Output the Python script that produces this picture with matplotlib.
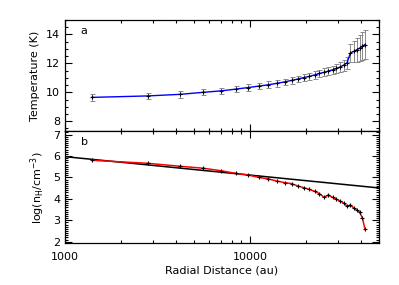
import numpy as np
import matplotlib
matplotlib.use('Agg')
import matplotlib.pyplot as plt
from matplotlib.ticker import MultipleLocator, LogLocator, FixedLocator, NullFormatter

plt.rcParams['font.family'] = 'DejaVu Sans'
plt.rcParams['font.size'] = 8

# radial distances of the profile points (au)
radius = [1400, 2800, 4200, 5600, 7000, 8400, 9800, 11200, 12600, 14000,
          15400, 16800, 18200, 19600, 21000, 22400, 23800, 25200, 26600, 28000,
          29400, 30800, 32200, 33600, 35000, 36400, 37800, 39200, 40600, 42000]

# panel a: temperature (K) and its uncertainty
temperature = [9.65, 9.75, 9.86, 10.0, 10.1, 10.22, 10.33, 10.43, 10.52, 10.62,
               10.72, 10.82, 10.92, 11.02, 11.1, 11.2, 11.3, 11.38, 11.47, 11.55,
               11.65, 11.75, 11.88, 12.05, 12.72, 12.82, 12.93, 13.05, 13.18, 13.3]
temp_err = [0.22, 0.22, 0.22, 0.22, 0.22, 0.22, 0.22, 0.22, 0.23, 0.23,
            0.23, 0.24, 0.24, 0.25, 0.25, 0.26, 0.27, 0.28, 0.29, 0.3,
            0.32, 0.35, 0.38, 0.42, 0.62, 0.72, 0.82, 0.9, 0.96, 1.0]

# panel b: log density
log_density = [5.8, 5.66, 5.52, 5.43, 5.31, 5.19, 5.11, 5.0, 4.93, 4.83,
               4.76, 4.71, 4.60, 4.52, 4.44, 4.35, 4.24, 4.07, 4.18, 4.07,
               3.98, 3.9, 3.8, 3.66, 3.71, 3.58, 3.48, 3.38, 3.12, 2.57]

# power-law reference: log n = pl_norm + pl_slope * log10(r / 1000)
pl_norm = 5.97
pl_slope = -0.86

xmin, xmax = 1000, 50000


def style_axis(ax):
    ax.set_xscale('log')
    ax.set_xlim(xmin, xmax)
    ax.xaxis.set_major_locator(LogLocator(base=10, numticks=10))
    ax.xaxis.set_minor_locator(LogLocator(base=10, subs=np.arange(2, 10), numticks=20))
    ax.tick_params(which='both', direction='in', top=True, right=True, width=0.8)
    ax.tick_params(which='major', length=5)
    ax.tick_params(which='minor', length=2.5)
    for s in ax.spines.values():
        s.set_linewidth(0.9)


fig = plt.figure(figsize=(3.99, 2.85), dpi=100)
ax1 = fig.add_axes([0.163, 0.539, 0.787, 0.391])
ax2 = fig.add_axes([0.163, 0.146, 0.787, 0.393])

# top panel: temperature
style_axis(ax1)
ax1.errorbar(radius, temperature, yerr=temp_err, fmt='none', ecolor='#8a8a8a',
             elinewidth=0.7, capsize=1.8, capthick=0.7, zorder=1)
ax1.plot(radius, temperature, color='blue', lw=1.0, zorder=2)
ax1.plot(radius, temperature, ls='none', marker='+', ms=3, mew=0.8, color='black', zorder=3)
ax1.set_ylim(7.3, 15)
ax1.yaxis.set_major_locator(FixedLocator([8, 10, 12, 14]))
ax1.yaxis.set_minor_locator(MultipleLocator(0.5))
ax1.xaxis.set_major_formatter(NullFormatter())
ax1.xaxis.set_minor_formatter(NullFormatter())
ax1.set_ylabel('Temperature (K)', labelpad=4)
ax1.text(0.05, 0.95, 'a', transform=ax1.transAxes, ha='left', va='top')

# bottom panel: density
style_axis(ax2)
r_line = np.array([xmin, xmax])
ax2.plot(r_line, pl_norm + pl_slope * np.log10(r_line / 1000.0), color='black', lw=1.1, zorder=1)
ax2.plot(radius, log_density, color='red', lw=1.1, zorder=2)
ax2.plot(radius, log_density, ls='none', marker='+', ms=3, mew=0.8, color='black', zorder=3)
ax2.set_ylim(1.92, 7.15)
ax2.yaxis.set_major_locator(MultipleLocator(1))
ax2.yaxis.set_minor_locator(MultipleLocator(0.1))
ax2.xaxis.set_minor_formatter(NullFormatter())
ax2.xaxis.set_major_formatter(plt.FuncFormatter(lambda v, p: '%d' % v))
ax2.tick_params(axis='x', pad=6)
ax2.set_ylabel(r'log(n$_{\rm H}$/cm$^{-3}$)', labelpad=4)
ax2.set_xlabel('Radial Distance (au)', labelpad=3)
ax2.text(0.05, 0.95, 'b', transform=ax2.transAxes, ha='left', va='top')

fig.savefig('out.png', dpi=100)
